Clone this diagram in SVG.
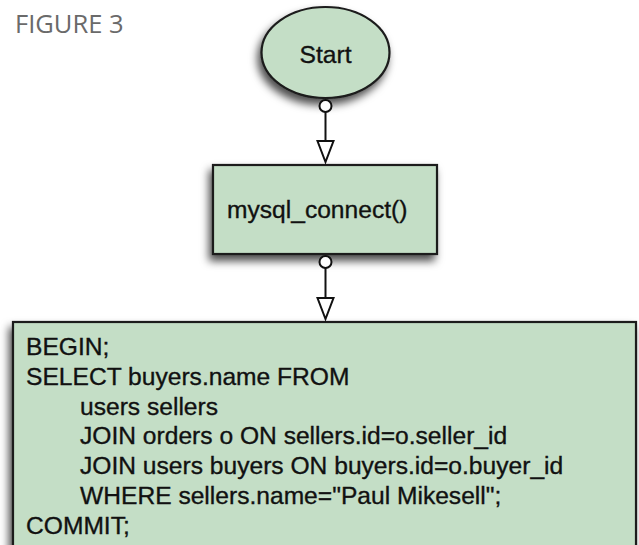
<svg xmlns="http://www.w3.org/2000/svg" width="639" height="545" viewBox="0 0 639 545">
  <style>
    .node { fill: #c4dec6; stroke: #1a1a1a; stroke-width: 2.2; filter: url(#shadow); }
    .label { font-family: "Liberation Sans", Arial, Helvetica, sans-serif; font-size: 24.6px; fill: #111; stroke: #111; stroke-width: 0.35; }
    .caption { font-family: "Open Sans", "Noto Sans", sans-serif; font-size: 25.5px; fill: #6a6a6a; }
    .wire { stroke: #111; stroke-width: 2; fill: none; }
    .port { stroke: #111; stroke-width: 2; fill: #fff; }
    .head { stroke: #111; stroke-width: 2; fill: #fff; stroke-linejoin: miter; }
  </style>
  <defs>
    <filter id="shadow" x="-20%" y="-20%" width="140%" height="150%">
      <feDropShadow dx="-3" dy="6" stdDeviation="4" flood-color="#000" flood-opacity="0.7"/>
    </filter>
  </defs>

  <rect width="639" height="545" fill="#fff"/>

  <text class="caption" x="15" y="33">FIGURE 3</text>

  <!-- start terminal -->
  <g id="start">
    <ellipse class="node" cx="325.5" cy="52.5" rx="64" ry="45.5"/>
    <text class="label" x="325.5" y="63" text-anchor="middle">Start</text>
  </g>

  <!-- connection step -->
  <g id="connect">
    <rect class="node" x="213" y="165" width="224" height="89"/>
    <text class="label" x="227" y="218">mysql_connect()</text>
  </g>

  <!-- transaction block -->
  <g id="transaction">
    <rect class="node" x="13" y="322" width="623" height="240"/>
    <text class="label" x="26" y="355">BEGIN;</text>
    <text class="label" x="26" y="384.8">SELECT buyers.name FROM</text>
    <text class="label" x="80" y="414.6">users sellers</text>
    <text class="label" x="80" y="444.4">JOIN orders o ON sellers.id=o.seller_id</text>
    <text class="label" x="80" y="474.2">JOIN users buyers ON buyers.id=o.buyer_id</text>
    <text class="label" x="80" y="504">WHERE sellers.name="Paul Mikesell";</text>
    <text class="label" x="26" y="533.8">COMMIT;</text>
  </g>

  <!-- connectors: port circle, line, hollow arrowhead -->
  <g id="connectors">
    <g id="start-to-connect">
      <line class="wire" x1="325.5" y1="112" x2="325.5" y2="141"/>
      <circle class="port" cx="325.5" cy="106" r="6"/>
      <polygon class="head" points="317.5,141 333.5,141 325.5,162"/>
    </g>
    <g id="connect-to-transaction">
      <line class="wire" x1="325.5" y1="268" x2="325.5" y2="298"/>
      <circle class="port" cx="325.5" cy="262" r="6"/>
      <polygon class="head" points="317.5,298 333.5,298 325.5,319"/>
    </g>
  </g>
</svg>
